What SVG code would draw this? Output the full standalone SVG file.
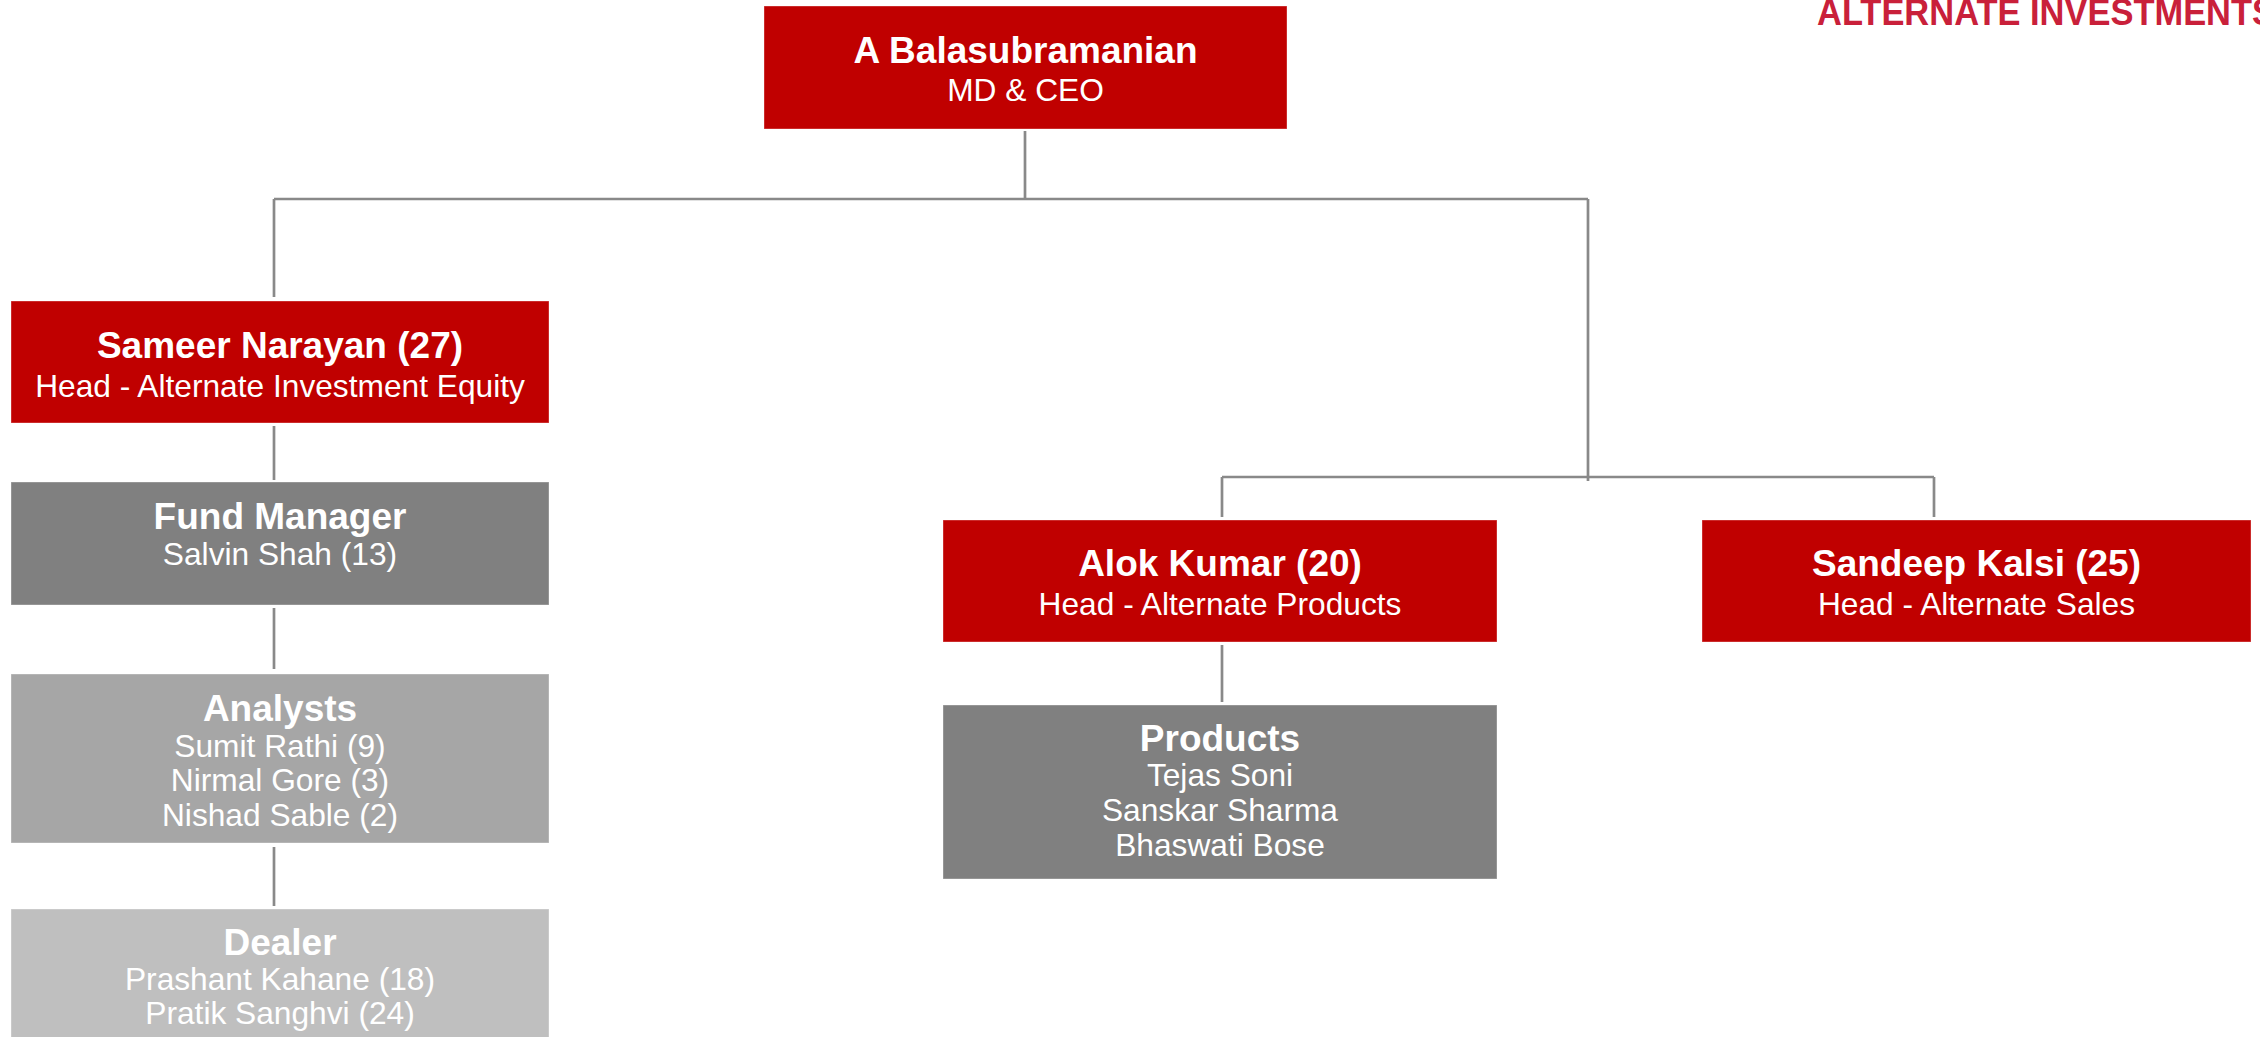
<svg xmlns="http://www.w3.org/2000/svg" width="2260" height="1037" viewBox="0 0 2260 1037">
<style>
.red{fill:#C00000}
.g1{fill:#808080}
.g2{fill:#A6A6A6}
.g3{fill:#BFBFBF}
.box{stroke:#FFFFFF;stroke-opacity:0.35;stroke-width:1}
text{font-family:"Liberation Sans",Arial,Helvetica,sans-serif;fill:#FFFFFF;text-anchor:middle}
.t{font-weight:bold;font-size:37px}
.s{font-size:31.7px}
.conn{fill:none;stroke:#898989;stroke-width:2.7}
.hdr{font-weight:bold;font-size:37px;fill:#C9203A;text-anchor:start}
</style>
<rect width="2260" height="1037" fill="#FFFFFF"/>
<text class="hdr" x="1817" y="25" textLength="458" lengthAdjust="spacingAndGlyphs">ALTERNATE INVESTMENTS</text>
<g id="connectors">
<path class="conn" d="M1025 131 V199"/>
<path class="conn" d="M274 199 H1588"/>
<path class="conn" d="M274 199 V297"/>
<path class="conn" d="M1588 199 V481"/>
<path class="conn" d="M1222 477 H1934"/>
<path class="conn" d="M1222 477 V517"/>
<path class="conn" d="M1934 477 V517"/>
<path class="conn" d="M274 426 V480"/>
<path class="conn" d="M274 608 V669"/>
<path class="conn" d="M274 847 V906"/>
<path class="conn" d="M1222 645 V702"/>
</g>
<g id="ceo">
<rect class="red box" x="764" y="6" width="523" height="123"/>
<text class="t" x="1025.5" y="63">A Balasubramanian</text>
<text class="s" x="1025.5" y="101">MD &amp; CEO</text>
</g>
<g id="sameer">
<rect class="red box" x="11" y="301" width="538" height="122"/>
<text class="t" x="280" y="358">Sameer Narayan (27)</text>
<text class="s" x="280" y="397">Head - Alternate Investment Equity</text>
</g>
<g id="fund-manager">
<rect class="g1 box" x="11" y="482" width="538" height="123"/>
<text class="t" x="280" y="529">Fund Manager</text>
<text class="s" x="280" y="565">Salvin Shah (13)</text>
</g>
<g id="analysts">
<rect class="g2 box" x="11" y="674" width="538" height="169"/>
<text class="t" x="280" y="721">Analysts</text>
<text class="s" x="280" y="757">Sumit Rathi (9)</text>
<text class="s" x="280" y="791">Nirmal Gore (3)</text>
<text class="s" x="280" y="826">Nishad Sable (2)</text>
</g>
<g id="dealer">
<rect class="g3 box" x="11" y="909" width="538" height="140"/>
<text class="t" x="280" y="955">Dealer</text>
<text class="s" x="280" y="990">Prashant Kahane (18)</text>
<text class="s" x="280" y="1024">Pratik Sanghvi (24)</text>
</g>
<g id="alok">
<rect class="red box" x="943" y="520" width="554" height="122"/>
<text class="t" x="1220" y="576">Alok Kumar (20)</text>
<text class="s" x="1220" y="615">Head - Alternate Products</text>
</g>
<g id="products">
<rect class="g1 box" x="943" y="705" width="554" height="174"/>
<text class="t" x="1220" y="751">Products</text>
<text class="s" x="1220" y="786">Tejas Soni</text>
<text class="s" x="1220" y="821">Sanskar Sharma</text>
<text class="s" x="1220" y="856">Bhaswati Bose</text>
</g>
<g id="sandeep">
<rect class="red box" x="1702" y="520" width="549" height="122"/>
<text class="t" x="1976.5" y="576">Sandeep Kalsi (25)</text>
<text class="s" x="1976.5" y="615">Head - Alternate Sales</text>
</g>
</svg>
